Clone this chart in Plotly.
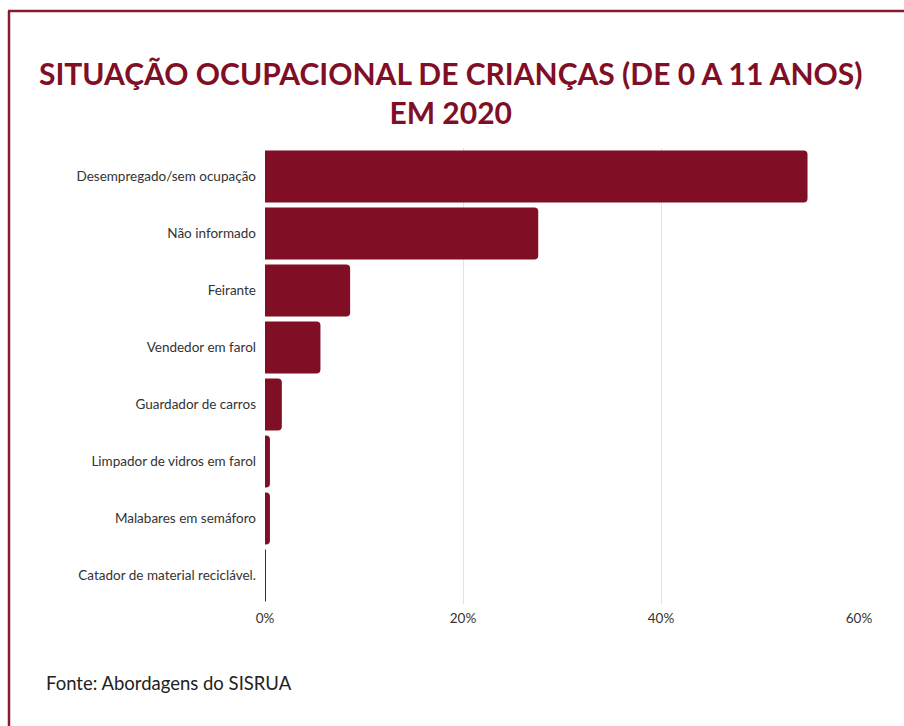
import plotly.graph_objects as go

categories = [
    "Desempregado/sem ocupação",
    "Não informado",
    "Feirante",
    "Vendedor em farol",
    "Guardador de carros",
    "Limpador de vidros em farol",
    "Malabares em semáforo",
    "Catador de material reciclável.",
]
percent = [54.8, 27.6, 8.6, 5.6, 1.7, 0.5, 0.5, 0.1]
x_ticks = [0, 20, 40, 60]
x_tick_labels = [f"{v}%" for v in x_ticks]

BAR = "#800F26"
TEXT = "#333333"

# plot area in pixels
W, H = 904, 726
L, R, T, B = 265, 45, 148, 122
pw, ph = W - L - R, H - T - B


def px_x(px):
    return (px - L) / pw


def px_y(py):
    return (H - B - py) / ph


fig = go.Figure(
    go.Bar(
        x=percent,
        y=categories,
        orientation="h",
        marker=dict(color=BAR, line=dict(width=0)),
        hovertemplate="%{y}: %{x}%<extra></extra>",
    )
)

fig.update_layout(
    width=W,
    height=H,
    margin=dict(l=L, r=R, t=T, b=B),
    paper_bgcolor="white",
    plot_bgcolor="white",
    bargap=0.09,
    barcornerradius=4,
    font=dict(family="Lato", size=13.5, color=TEXT),
    showlegend=False,
    xaxis=dict(
        range=[0, 60],
        tickvals=x_ticks,
        ticktext=x_tick_labels,
        showgrid=True,
        gridcolor="#e3e3e3",
        gridwidth=1,
        zeroline=False,
        showline=False,
        ticks="",
        ticklabelstandoff=4,
        tickfont=dict(size=13.5, color=TEXT),
        fixedrange=True,
    ),
    yaxis=dict(
        categoryorder="array",
        categoryarray=categories[::-1],
        showgrid=False,
        zeroline=False,
        showline=False,
        ticks="",
        ticklabelstandoff=8,
        tickfont=dict(size=13.5, color=TEXT),
        fixedrange=True,
    ),
    annotations=[
        dict(
            text="SITUAÇÃO OCUPACIONAL DE CRIANÇAS (DE 0 A 11 ANOS)<br>EM 2020",
            xref="paper", yref="paper",
            x=px_x(450), y=px_y(53),
            xanchor="center", yanchor="top",
            showarrow=False,
            align="center",
            font=dict(family="Lato", size=30, color=BAR, weight="bold"),
        ),
        dict(
            text="Fonte: Abordagens do SISRUA",
            xref="paper", yref="paper",
            x=px_x(44), y=px_y(683),
            xanchor="left", yanchor="middle",
            showarrow=False,
            font=dict(family="Lato", size=18.5, color="#222222"),
        ),
    ],
    shapes=[
        # frame: left and top edges
        dict(type="line", xref="paper", yref="paper",
             x0=px_x(9), x1=px_x(9), y0=px_y(11), y1=px_y(H + 5),
             line=dict(color="#8A1A2F", width=2.5)),
        dict(type="line", xref="paper", yref="paper",
             x0=px_x(8), x1=px_x(W + 5), y0=px_y(11), y1=px_y(11),
             line=dict(color="#8A1A2F", width=2.5)),
    ],
)

fig.write_html("out.html")
